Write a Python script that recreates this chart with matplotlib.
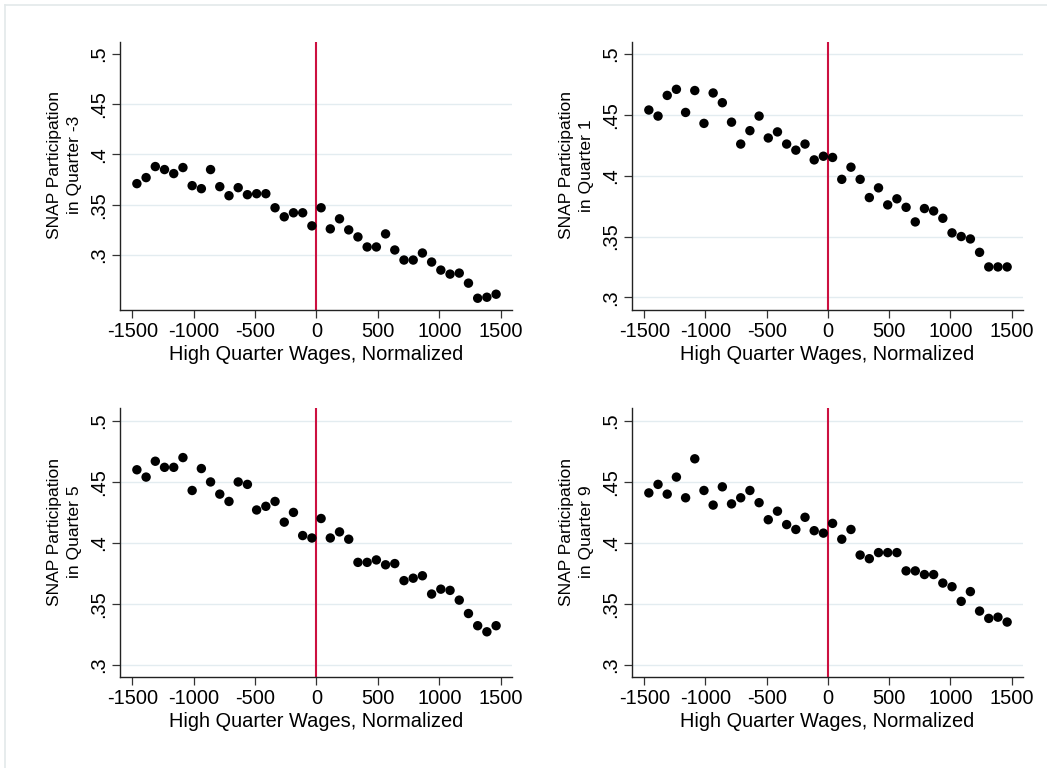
import matplotlib
matplotlib.use('Agg')
import matplotlib.pyplot as plt
from matplotlib.lines import Line2D

plt.rcParams['font.family'] = ['Liberation Sans', 'DejaVu Sans']

# Bin centers (normalized high quarter wages)
wage_bins = [-1462.5, -1387.5, -1312.5, -1237.5, -1162.5, -1087.5, -1012.5, -937.5,
             -862.5, -787.5, -712.5, -637.5, -562.5, -487.5, -412.5, -337.5,
             -262.5, -187.5, -112.5, -37.5, 37.5, 112.5, 187.5, 262.5,
             337.5, 412.5, 487.5, 562.5, 637.5, 712.5, 787.5, 862.5,
             937.5, 1012.5, 1087.5, 1162.5, 1237.5, 1312.5, 1387.5, 1462.5]

snap_q_minus3 = [0.371, 0.377, 0.388, 0.385, 0.381, 0.387, 0.369, 0.366, 0.385, 0.368,
                 0.359, 0.367, 0.360, 0.361, 0.361, 0.347, 0.338, 0.342, 0.342, 0.329,
                 0.347, 0.326, 0.336, 0.325, 0.318, 0.308, 0.308, 0.321, 0.305, 0.295,
                 0.295, 0.302, 0.293, 0.285, 0.281, 0.282, 0.272, 0.257, 0.258, 0.261]

snap_q1 = [0.454, 0.449, 0.466, 0.471, 0.452, 0.470, 0.443, 0.468, 0.460, 0.444,
           0.426, 0.437, 0.449, 0.431, 0.436, 0.426, 0.421, 0.426, 0.413, 0.416,
           0.415, 0.397, 0.407, 0.397, 0.382, 0.390, 0.376, 0.381, 0.374, 0.362,
           0.373, 0.371, 0.365, 0.353, 0.350, 0.348, 0.337, 0.325, 0.325, 0.325]

snap_q5 = [0.460, 0.454, 0.467, 0.462, 0.462, 0.470, 0.443, 0.461, 0.450, 0.440,
           0.434, 0.450, 0.448, 0.427, 0.430, 0.434, 0.417, 0.425, 0.406, 0.404,
           0.420, 0.404, 0.409, 0.403, 0.384, 0.384, 0.386, 0.382, 0.383, 0.369,
           0.371, 0.373, 0.358, 0.362, 0.361, 0.353, 0.342, 0.332, 0.327, 0.332]

snap_q9 = [0.441, 0.448, 0.440, 0.454, 0.437, 0.469, 0.443, 0.431, 0.446, 0.432,
           0.437, 0.443, 0.433, 0.419, 0.426, 0.415, 0.411, 0.421, 0.410, 0.408,
           0.416, 0.403, 0.411, 0.390, 0.387, 0.392, 0.392, 0.392, 0.377, 0.377,
           0.374, 0.374, 0.367, 0.364, 0.352, 0.360, 0.344, 0.338, 0.339, 0.335]

y_ticks = [0.3, 0.35, 0.4, 0.45, 0.5]
y_tick_labels = ['.3', '.35', '.4', '.45', '.5']
x_ticks = [-1500, -1000, -500, 0, 500, 1000, 1500]
x_tick_labels = ['-1500', '-1000', '-500', '0', '500', '1000', '1500']

panels = [
    (snap_q_minus3, 'SNAP Participation\nin Quarter -3'),
    (snap_q1, 'SNAP Participation\nin Quarter 1'),
    (snap_q5, 'SNAP Participation\nin Quarter 5'),
    (snap_q9, 'SNAP Participation\nin Quarter 9'),
]

W, H = 1047, 768
fig = plt.figure(figsize=(W / 100, H / 100), dpi=100)

# pixel boxes: left, right, top, bottom
boxes = [(120, 512, 42, 310), (632, 1023, 42, 310),
         (120, 512, 408, 677), (632, 1023, 408, 677)]
ylims = [(0.2453, 0.5119), (0.2896, 0.5099), (0.2899, 0.5107), (0.2899, 0.5107)]
grid_sets = [[0.3, 0.35, 0.4, 0.45], y_ticks, y_ticks, y_ticks]

grid_color = '#e3ecf0'
red = '#cc1040'

# outer graph region border (top and left visible)
fig.add_artist(Line2D([5 / W, 1.0], [1 - 5 / H, 1 - 5 / H], transform=fig.transFigure,
                      color='#e3e9ea', lw=1.2))
fig.add_artist(Line2D([5 / W, 5 / W], [0.0, 1 - 5 / H], transform=fig.transFigure,
                      color='#e3e9ea', lw=1.2))

for (vals, ylabel), (l, r, t, b), ylim, gset in zip(panels, boxes, ylims, grid_sets):
    ax = fig.add_axes([l / W, 1 - b / H, (r - l) / W, (b - t) / H])
    ax.set_xlim(-1600, 1592)
    ax.set_ylim(*ylim)
    for g in gset:
        ax.axhline(g, color=grid_color, lw=1.0, zorder=0)
    ax.axvline(0, color=red, lw=1.5, zorder=2)
    ax.scatter(wage_bins, vals, s=46, color='black', edgecolors='none', zorder=3)
    ax.set_xticks(x_ticks)
    ax.set_xticklabels(x_tick_labels)
    ax.set_yticks(y_ticks)
    ax.set_yticklabels(y_tick_labels, rotation=90, va='center')
    ax.tick_params(axis='both', labelsize=14.4, length=5.5, width=0.9, color='#333333',
                   pad=3)
    for s in ['top', 'right']:
        ax.spines[s].set_visible(False)
    for s in ['left', 'bottom']:
        ax.spines[s].set_color('#222222')
        ax.spines[s].set_linewidth(1.0)
    ax.set_xlabel('High Quarter Wages, Normalized', fontsize=14.4, labelpad=3)
    ax.set_ylabel(ylabel, fontsize=12.6, linespacing=1.45)
    ax.yaxis.set_label_coords(-38 / (r - l), 0.54)
    ax.patch.set_alpha(0)

fig.savefig('out.png', dpi=100, facecolor='white')
